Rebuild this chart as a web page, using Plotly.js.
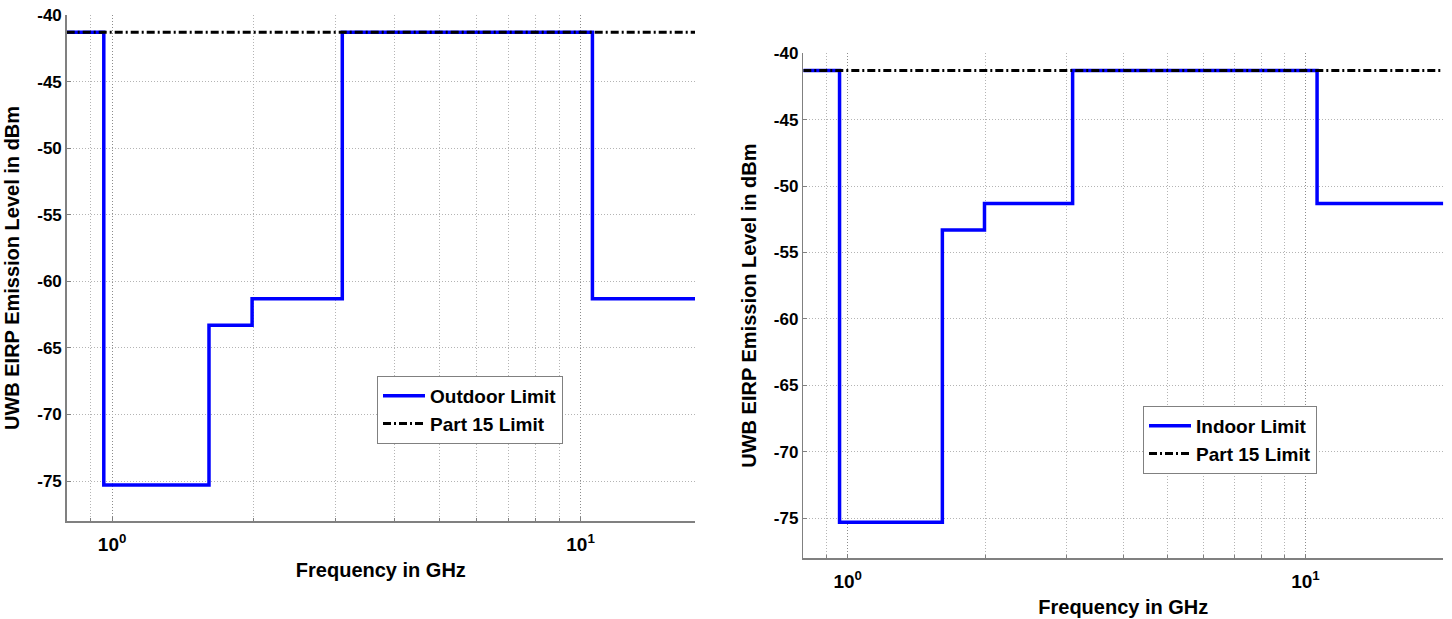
<!DOCTYPE html>
<html>
<head>
<meta charset="utf-8">
<script src="https://cdn.plot.ly/plotly-3.0.1.min.js"></script>
<style>html,body{margin:0;padding:0;background:#fff;}#chart{width:1452px;height:619px;}</style>
</head>
<body>
<div id="chart"></div>
<script>
// ---- data ----
const freqEdges = [0.8, 0.96, 1.61, 1.99, 3.1, 10.6, 20];          // GHz, band edges
const outdoorLevels = [-41.3, -75.3, -63.3, -61.3, -41.3, -61.3];  // dBm per band
const indoorLevels  = [-41.3, -75.3, -53.3, -51.3, -41.3, -51.3];  // dBm per band
const part15Freq = [0.8, 20];
const part15Level = -41.3;
const decadeFreqs = [1, 10];
const decadeLabels = ['10<sup>0</sup>', '10<sup>1</sup>'];
const minorFreqs = [0.9, 2, 3, 4, 5, 6, 7, 8, 9, 20];
const levelTicks = [-75, -70, -65, -60, -55, -50, -45, -40];
const levelTickLabels = ['-75', '-70', '-65', '-60', '-55', '-50', '-45', '-40'];

const W = 1452, H = 619;
const FONT = 'Liberation Sans, Arial, sans-serif';

function stepY(levels) { return levels.concat([levels[levels.length - 1]]); }

const traces = [
  {x: freqEdges, y: stepY(outdoorLevels), xaxis: 'x', yaxis: 'y', type: 'scatter', mode: 'lines',
   line: {shape: 'hv', color: '#0000ff', width: 3.5}, name: 'Outdoor Limit', legend: 'legend'},
  {x: part15Freq, y: part15Freq.map(() => part15Level), xaxis: 'x', yaxis: 'y', type: 'scatter', mode: 'lines',
   line: {color: '#000000', width: 3, dash: '8px,3px,2px,3px'}, name: 'Part 15 Limit', legend: 'legend'},
  {x: freqEdges, y: stepY(indoorLevels), xaxis: 'x2', yaxis: 'y2', type: 'scatter', mode: 'lines',
   line: {shape: 'hv', color: '#0000ff', width: 3.5}, name: 'Indoor Limit', legend: 'legend2'},
  {x: part15Freq, y: part15Freq.map(() => part15Level), xaxis: 'x2', yaxis: 'y2', type: 'scatter', mode: 'lines',
   line: {color: '#000000', width: 3, dash: '8px,3px,2px,3px'}, name: 'Part 15 Limit', legend: 'legend2'}
];

const tickFont = {family: FONT, size: 17, color: '#000', weight: 'bold'};
const xTickFont = {family: FONT, size: 19, color: '#000', weight: 'bold'};
const titleFont = {family: FONT, size: 20, color: '#000', weight: 'bold'};

function xAxis(domainPx, rangeMax, anchor) {
  return {
    type: 'log', domain: [domainPx[0] / W, domainPx[1] / W],
    range: [Math.log10(0.8), Math.log10(rangeMax)], anchor: anchor,
    tickmode: 'array', tickvals: decadeFreqs, ticktext: decadeLabels,
    showgrid: true, gridcolor: '#8c8c8c', griddash: '1px,2px', gridwidth: 1,
    minor: {tickmode: 'array', tickvals: minorFreqs, showgrid: true, gridcolor: '#b4b4b4',
            griddash: '1px,2px', gridwidth: 1, ticks: 'inside', ticklen: 3, tickcolor: '#808080'},
    showline: true, linecolor: '#808080', linewidth: 1.5,
    ticks: 'inside', ticklen: 4, tickcolor: '#808080', tickwidth: 1,
    tickfont: xTickFont, ticklabelstandoff: 6, zeroline: false,
    title: {text: 'Frequency in GHz', font: titleFont, standoff: 8}
  };
}
function yAxis(topPx, bottomPx, anchor) {
  return {
    domain: [1 - bottomPx / H, 1 - topPx / H], range: [-78, -40], anchor: anchor,
    tickmode: 'array', tickvals: levelTicks, ticktext: levelTickLabels,
    showgrid: true, gridcolor: '#b4b4b4', griddash: '1px,2px', gridwidth: 1,
    showline: true, linecolor: '#808080', linewidth: 1.5,
    ticks: 'inside', ticklen: 4, tickcolor: '#808080', tickwidth: 1,
    tickfont: tickFont, zeroline: false,
    title: {text: 'UWB EIRP Emission Level in dBm', font: titleFont, standoff: 12}
  };
}

const legendStyle = {
  bgcolor: '#ffffff', bordercolor: '#808080', borderwidth: 1,
  font: {family: FONT, size: 19, color: '#000', weight: 'bold'},
  xanchor: 'left', yanchor: 'top', tracegroupgap: 0, traceorder: 'normal', itemwidth: 42
};

const layout = {
  width: W, height: H, margin: {l: 0, r: 0, t: 0, b: 0},
  paper_bgcolor: '#ffffff', plot_bgcolor: '#ffffff',
  font: {family: FONT},
  showlegend: true,
  xaxis: xAxis([66.7, 695], 17.55, 'y'),
  yaxis: yAxis(15, 521, 'x'),
  xaxis2: xAxis([803.3, 1443.3], 20, 'y2'),
  yaxis2: yAxis(53.3, 558, 'x2'),
  legend: Object.assign({}, legendStyle, {x: 377 / W, y: 1 - 376 / H}),
  legend2: Object.assign({}, legendStyle, {x: 1143 / W, y: 1 - 406 / H})
};

Plotly.newPlot('chart', traces, layout, {displayModeBar: false, staticPlot: true});
</script>
</body>
</html>
